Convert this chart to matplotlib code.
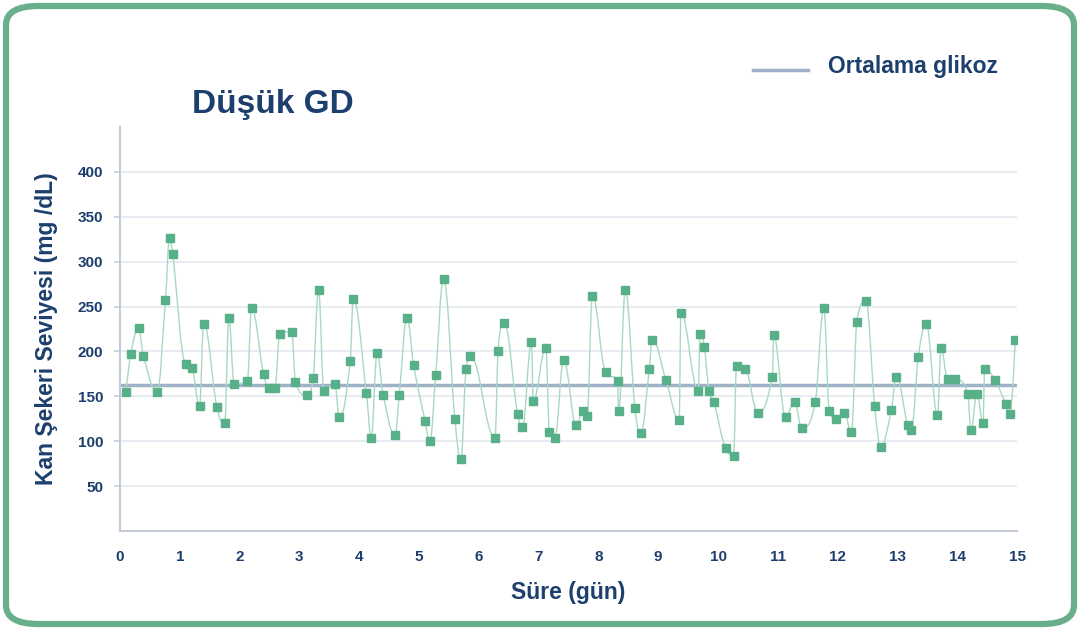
import numpy as np
import matplotlib
matplotlib.use("Agg")
import matplotlib.pyplot as plt
from matplotlib.path import Path
from matplotlib.patches import PathPatch, FancyBboxPatch
from matplotlib.lines import Line2D

# ---- data ----
days = [0.10, 0.18, 0.31, 0.39, 0.62, 0.76, 0.83, 0.88, 1.10, 1.20, 1.33, 1.40, 1.62, 1.75,
        1.82, 1.91, 2.13, 2.20, 2.40, 2.50, 2.59, 2.67, 2.87, 2.93, 3.13, 3.23, 3.32, 3.41,
        3.59, 3.67, 3.85, 3.90, 4.12, 4.20, 4.30, 4.40, 4.60, 4.67, 4.80, 4.91, 5.10, 5.18,
        5.28, 5.41, 5.60, 5.70, 5.79, 5.86, 6.27, 6.32, 6.42, 6.65, 6.73, 6.88, 6.91, 7.12,
        7.18, 7.27, 7.42, 7.63, 7.74, 7.81, 7.90, 8.12, 8.32, 8.34, 8.45, 8.61, 8.71, 8.85,
        8.90, 9.13, 9.35, 9.38, 9.67, 9.70, 9.77, 9.85, 9.93, 10.13, 10.26, 10.31, 10.45,
        10.67, 10.91, 10.93, 11.13, 11.28, 11.40, 11.63, 11.77, 11.86, 11.97, 12.11, 12.23,
        12.32, 12.47, 12.62, 12.72, 12.90, 12.98, 13.17, 13.23, 13.35, 13.48, 13.67, 13.73,
        13.84, 13.97, 14.18, 14.23, 14.33, 14.43, 14.46, 14.63, 14.81, 14.88, 14.97]
glucose = [155, 197, 226, 195, 155, 257, 326, 309, 186, 182, 139, 231, 138, 120,
           237, 164, 167, 248, 175, 159, 159, 219, 222, 166, 151, 170, 268, 156,
           164, 127, 189, 258, 154, 104, 198, 152, 107, 152, 237, 185, 123, 100,
           174, 281, 125, 80, 181, 195, 104, 201, 232, 130, 116, 210, 145, 204,
           110, 104, 190, 118, 134, 128, 262, 177, 167, 134, 268, 137, 109, 180,
           213, 168, 124, 243, 156, 220, 205, 156, 144, 93, 84, 184, 181,
           132, 172, 218, 127, 144, 115, 144, 248, 134, 125, 132, 110,
           233, 256, 139, 94, 135, 172, 118, 112, 194, 231, 129, 204,
           169, 169, 153, 112, 153, 120, 181, 168, 142, 130, 213]
mean_glucose = 163
x_ticks = list(range(0, 16))
y_ticks = [50, 100, 150, 200, 250, 300, 350, 400]

title = "Düşük GD"
x_label = "Süre (gün)"
y_label = "Kan Şekeri Seviyesi (mg /dL)"
legend_label = "Ortalama glikoz"

NAVY = "#1d3f6e"
GREEN = "#58b089"
LINE_GREEN = "#a9d8c2"
MEAN_COL = "#9fb3c8"
GRID = "#e4e9f0"
AXIS = "#c3cbd9"

plt.rcParams['font.family'] = ['Liberation Sans', 'DejaVu Sans']

fig = plt.figure(figsize=(10.8, 6.3), dpi=100)
ax = fig.add_axes([0.1111, 0.1571, 0.8306, 0.6413])


def spline_path(xs, ys, smoothing=1.5):
    """Highcharts-style spline: control points per point, clamped against overshoot."""
    xs = np.asarray(xs, float)
    ys = np.asarray(ys, float)
    n = len(xs)
    denom = smoothing + 1
    lc = [(xs[i], ys[i]) for i in range(n)]
    rc = [(xs[i], ys[i]) for i in range(n)]
    for i in range(1, n - 1):
        px, py = xs[i], ys[i]
        lx, ly = xs[i - 1], ys[i - 1]
        nx, ny = xs[i + 1], ys[i + 1]
        lcx = (smoothing * px + lx) / denom
        lcy = (smoothing * py + ly) / denom
        rcx = (smoothing * px + nx) / denom
        rcy = (smoothing * py + ny) / denom
        if rcx != lcx:
            corr = ((rcy - lcy) * (rcx - px)) / (rcx - lcx) + py - rcy
            lcy += corr
            rcy += corr
        if lcy > ly and lcy > py:
            lcy = max(ly, py)
            rcy = 2 * py - lcy
        elif lcy < ly and lcy < py:
            lcy = min(ly, py)
            rcy = 2 * py - lcy
        if rcy > ny and rcy > py:
            rcy = max(ny, py)
            lcy = 2 * py - rcy
        elif rcy < ny and rcy < py:
            rcy = min(ny, py)
            lcy = 2 * py - rcy
        lc[i] = (lcx, lcy)
        rc[i] = (rcx, rcy)
    verts = [(xs[0], ys[0])]
    codes = [Path.MOVETO]
    for i in range(n - 1):
        verts += [rc[i], lc[i + 1], (xs[i + 1], ys[i + 1])]
        codes += [Path.CURVE4] * 3
    return Path(verts, codes)


ax.add_patch(PathPatch(spline_path(days, glucose), facecolor="none", edgecolor=LINE_GREEN,
                       lw=1.0, zorder=3))

ax.plot(days, glucose, linestyle="none", marker="s", ms=6, color=GREEN,
        markeredgecolor=GREEN, zorder=4)

ax.axhline(mean_glucose, color=MEAN_COL, lw=2.5, zorder=2)

ax.set_xlim(0, 15)
ax.set_ylim(0, 450)
ax.set_xticks(x_ticks)
ax.set_yticks(y_ticks)
ax.grid(axis="y", color=GRID, lw=1.2, zorder=0)
for s in ["top", "right"]:
    ax.spines[s].set_visible(False)
for s in ["left", "bottom"]:
    ax.spines[s].set_color(AXIS)
    ax.spines[s].set_linewidth(1.5)
ax.tick_params(axis="y", length=4, width=1.2, color=AXIS, labelsize=11, labelcolor=NAVY, pad=8)
ax.tick_params(axis="x", length=0, labelsize=11, labelcolor=NAVY, pad=14)
for lab in ax.get_xticklabels() + ax.get_yticklabels():
    lab.set_fontweight("bold")

ax.set_xlabel(x_label, fontsize=16.5, fontweight="bold", color=NAVY, labelpad=12)
ax.set_ylabel(y_label, fontsize=16.5, fontweight="bold", color=NAVY, labelpad=14)

fig.text(192 / 1080, 1 - 104 / 630, title, fontsize=24, fontweight="bold", color=NAVY,
         ha="left", va="center")

# legend
fig.add_artist(Line2D([753 / 1080, 808 / 1080], [1 - 70 / 630, 1 - 70 / 630],
                      color=MEAN_COL, lw=2.5))
fig.text(828 / 1080, 1 - 67 / 630, legend_label, fontsize=16.5, fontweight="bold", color=NAVY,
         ha="left", va="center")

# rounded border
fig.add_artist(FancyBboxPatch((6 / 1080, 6 / 630), 1068 / 1080, 618 / 630,
                              boxstyle="round,pad=0,rounding_size=0.03",
                              transform=fig.transFigure, facecolor="none",
                              edgecolor="#6aaf8c", lw=4.5))

fig.savefig("out.png", dpi=100)
